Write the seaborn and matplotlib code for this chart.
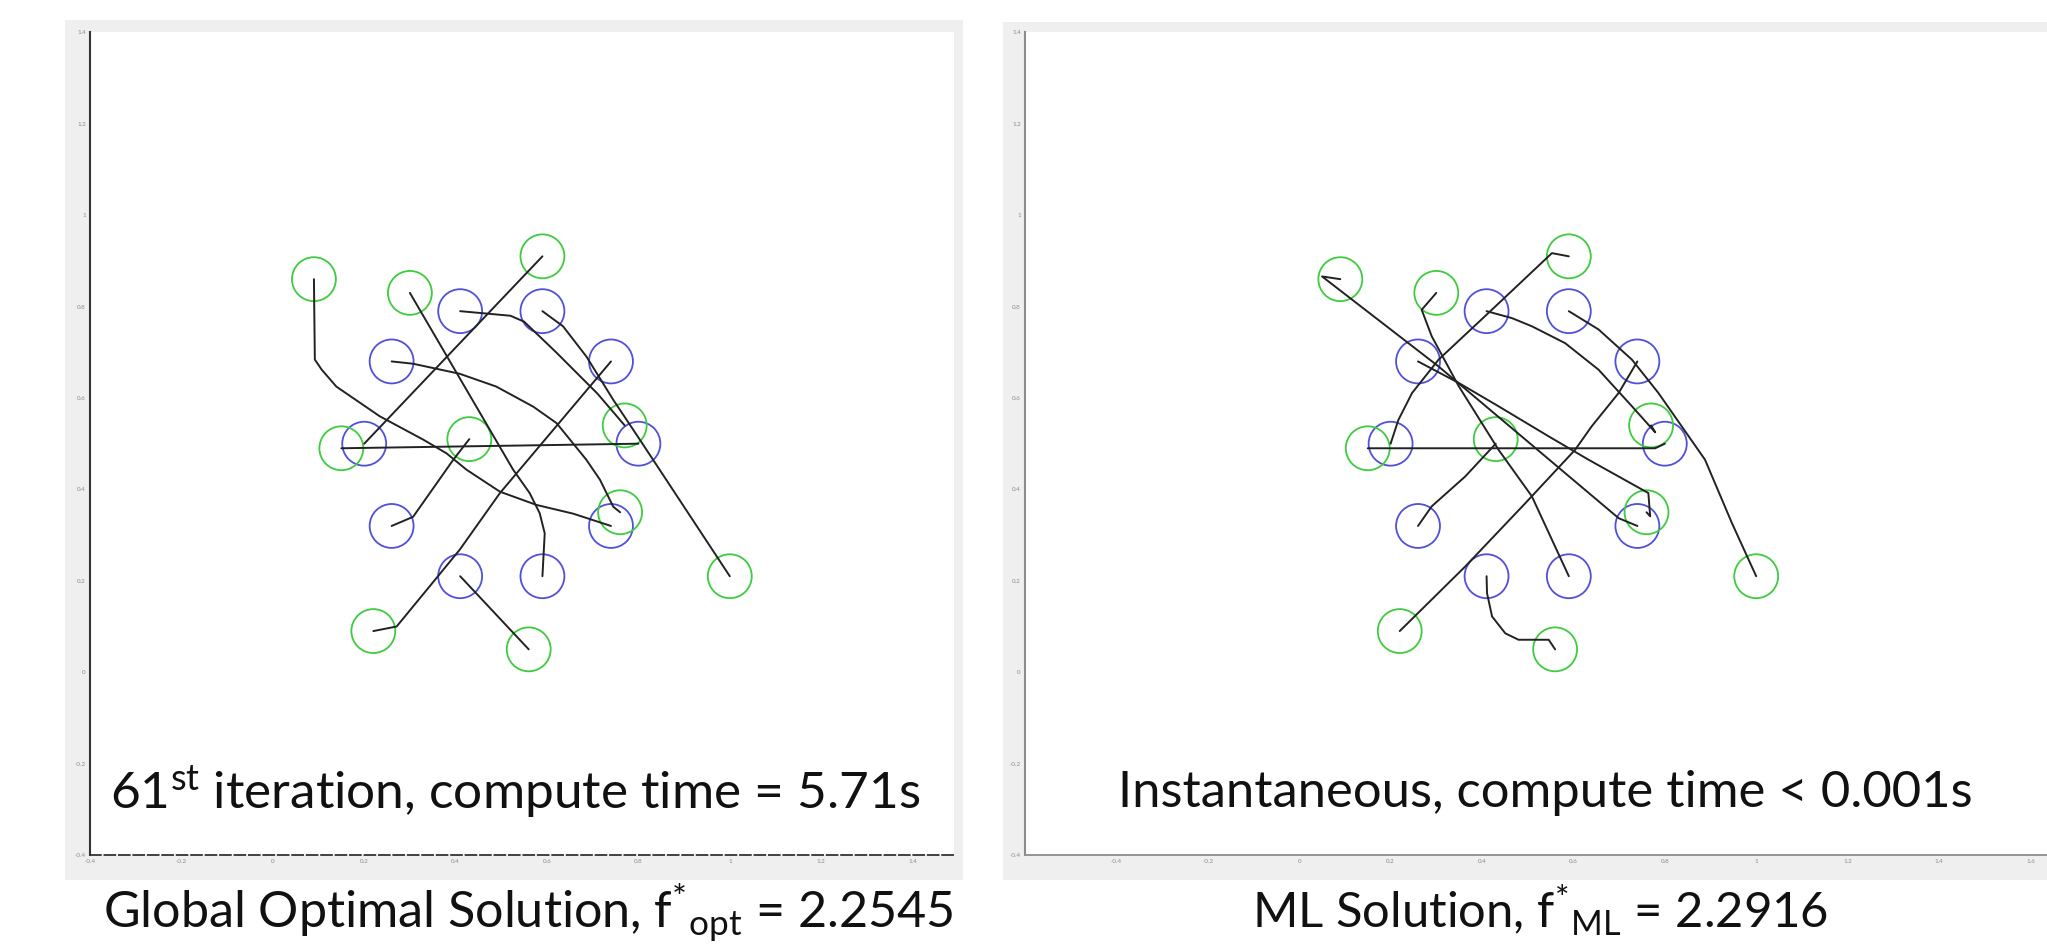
import numpy as np
import pandas as pd
import seaborn as sns
import matplotlib.pyplot as plt
from matplotlib.patches import Rectangle

sns.set_theme(style="white")
plt.rcParams['font.family'] = ['Lato', 'DejaVu Sans']
plt.rcParams['mathtext.fontset'] = 'custom'
plt.rcParams['mathtext.rm'] = 'Lato'
plt.rcParams['mathtext.it'] = 'Lato:italic'
plt.rcParams['mathtext.bf'] = 'Lato:bold'

# robots (blue) and targets (green), same for both panels
start_x = [0.41, 0.59, 0.26, 0.74, 0.20, 0.80, 0.26, 0.74, 0.41, 0.59]
start_y = [0.79, 0.79, 0.68, 0.68, 0.50, 0.50, 0.32, 0.32, 0.21, 0.21]
goal_x = [0.09, 0.30, 0.59, 0.15, 0.43, 0.77, 0.76, 1.00, 0.22, 0.56]
goal_y = [0.86, 0.83, 0.91, 0.49, 0.51, 0.54, 0.35, 0.21, 0.09, 0.05]

# trajectories, global optimal solution (left)
opt_b1_g6 = [(0.41, 0.79), (0.52, 0.78), (0.55, 0.767), (0.62, 0.70), (0.71, 0.61), (0.77, 0.54)]
opt_b2_g8 = [(0.59, 0.79), (0.635, 0.757), (0.686, 0.691), (0.745, 0.596), (0.803, 0.509),
             (0.832, 0.465), (1.00, 0.21)]
opt_b3_g7 = [(0.26, 0.68), (0.307, 0.675), (0.409, 0.653), (0.489, 0.625), (0.570, 0.581),
             (0.621, 0.545), (0.686, 0.465), (0.716, 0.421), (0.745, 0.362), (0.76, 0.35)]
opt_b4_g9 = [(0.74, 0.68), (0.497, 0.392), (0.409, 0.268), (0.271, 0.100), (0.22, 0.09)]
opt_b5_g3 = [(0.20, 0.50), (0.59, 0.91)]
opt_b6_g4 = [(0.80, 0.50), (0.15, 0.49)]
opt_b7_g5 = [(0.26, 0.32), (0.307, 0.340), (0.395, 0.465), (0.43, 0.51)]
opt_b8_g1 = [(0.74, 0.32), (0.657, 0.347), (0.577, 0.366), (0.497, 0.395), (0.424, 0.443),
             (0.380, 0.479), (0.329, 0.509), (0.234, 0.560), (0.139, 0.625), (0.107, 0.662),
             (0.092, 0.684), (0.09, 0.86)]
opt_b9_g10 = [(0.41, 0.21), (0.56, 0.05)]
opt_b10_g2 = [(0.59, 0.21), (0.595, 0.304), (0.584, 0.348), (0.562, 0.392), (0.526, 0.443),
              (0.30, 0.83)]

# trajectories, ML solution (right)
ml_b1_g6 = [(0.41, 0.79), (0.465, 0.775), (0.509, 0.757), (0.582, 0.720), (0.655, 0.662),
            (0.728, 0.582), (0.779, 0.525), (0.77, 0.54)]
ml_b2_g8 = [(0.59, 0.79), (0.655, 0.750), (0.728, 0.684), (0.786, 0.611), (0.837, 0.538),
            (0.888, 0.465), (0.947, 0.326), (1.00, 0.21)]
ml_b3_g7 = [(0.26, 0.68), (0.349, 0.633), (0.436, 0.582), (0.546, 0.516), (0.633, 0.465),
            (0.764, 0.392), (0.768, 0.341), (0.76, 0.35)]
ml_b4_g9 = [(0.74, 0.68), (0.699, 0.611), (0.640, 0.538), (0.604, 0.487), (0.495, 0.370),
            (0.363, 0.231), (0.22, 0.09)]
ml_b5_g3 = [(0.20, 0.50), (0.217, 0.552), (0.247, 0.611), (0.305, 0.684), (0.414, 0.786),
            (0.553, 0.917), (0.59, 0.91)]
ml_b6_g4 = [(0.80, 0.50), (0.779, 0.490), (0.15, 0.49)]
ml_b7_g5 = [(0.26, 0.32), (0.290, 0.363), (0.363, 0.428), (0.43, 0.50)]
ml_b8_g1 = [(0.74, 0.32), (0.699, 0.337), (0.495, 0.509), (0.305, 0.669), (0.05, 0.866),
            (0.09, 0.86)]
ml_b9_g10 = [(0.41, 0.21), (0.411, 0.173), (0.422, 0.122), (0.451, 0.085), (0.480, 0.071),
             (0.546, 0.071), (0.56, 0.05)]
ml_b10_g2 = [(0.59, 0.21), (0.509, 0.385), (0.436, 0.487), (0.349, 0.626), (0.290, 0.735),
             (0.268, 0.793), (0.30, 0.83)]

opt_paths = [opt_b1_g6, opt_b2_g8, opt_b3_g7, opt_b4_g9, opt_b5_g3,
             opt_b6_g4, opt_b7_g5, opt_b8_g1, opt_b9_g10, opt_b10_g2]
ml_paths = [ml_b1_g6, ml_b2_g8, ml_b3_g7, ml_b4_g9, ml_b5_g3,
            ml_b6_g4, ml_b7_g5, ml_b8_g1, ml_b9_g10, ml_b10_g2]

# axis ticks (MATLAB style labels)
y_ticks = [-0.4, -0.2, 0, 0.2, 0.4, 0.6, 0.8, 1, 1.2, 1.4]
y_labels = ['-0.4', '-0.2', '0', '0.2', '0.4', '0.6', '0.8', '1', '1.2', '1.4']
left_x_ticks = [-0.4, -0.2, 0, 0.2, 0.4, 0.6, 0.8, 1, 1.2, 1.4]
left_x_labels = ['-0.4', '-0.2', '0', '0.2', '0.4', '0.6', '0.8', '1', '1.2', '1.4']
right_x_ticks = [-0.4, -0.2, 0, 0.2, 0.4, 0.6, 0.8, 1, 1.2, 1.4, 1.6]
right_x_labels = ['-0.4', '-0.2', '0', '0.2', '0.4', '0.6', '0.8', '1', '1.2', '1.4', '1.6']

left_note = '61$^{\\mathrm{st}}$ iteration, compute time = 5.71s'
right_note = 'Instantaneous, compute time < 0.001s'
left_title = 'Global Optimal Solution, f$^{*}$$_{\\mathrm{opt}}$ = 2.2545'
right_title = 'ML Solution, f$^{*}$$_{\\mathrm{ML}}$ = 2.2916'

BLUE = '#5050dc'
GREEN = '#3fcb3f'
LINE = '#222222'
PANEL = '#efefef'

W, H = 2047, 947


def path_frame(paths):
    rows = []
    for k, pts in enumerate(paths):
        for x, y in pts:
            rows.append((k, x, y))
    return pd.DataFrame(rows, columns=['path', 'x', 'y'])


def draw_panel(ax, paths, xlim, xticks, xlabels, dashed_bottom, spine_col):
    df = path_frame(paths)
    sns.lineplot(data=df, x='x', y='y', units='path', estimator=None, sort=False,
                 color=LINE, linewidth=1.4, ax=ax, zorder=3)
    sns.scatterplot(x=start_x, y=start_y, ax=ax, s=1000, marker='o', color=BLUE,
                    facecolor='none', edgecolor=BLUE, linewidth=1.3, zorder=2)
    sns.scatterplot(x=goal_x, y=goal_y, ax=ax, s=1000, marker='o', color=GREEN,
                    facecolor='none', edgecolor=GREEN, linewidth=1.3, zorder=2)
    ax.set_xlim(*xlim)
    ax.set_ylim(-0.4, 1.4)
    ax.set_xlabel('')
    ax.set_ylabel('')
    ax.set_xticks(xticks)
    ax.set_xticklabels(xlabels)
    ax.set_yticks(y_ticks)
    ax.set_yticklabels(y_labels)
    ax.tick_params(direction='in', length=5, width=0.8, color='#555555',
                   labelsize=4.5, labelcolor='#8a8a8a', pad=3)
    ax.set_facecolor('white')
    for side in ['top', 'right']:
        ax.spines[side].set_visible(False)
    ax.spines['left'].set_color(spine_col)
    ax.spines['left'].set_linewidth(1.5)
    ax.spines['bottom'].set_color(spine_col if not dashed_bottom else '#333333')
    ax.spines['bottom'].set_linewidth(1.3)
    if dashed_bottom:
        ax.spines['bottom'].set_linestyle((0, (6, 2)))


fig = plt.figure(figsize=(W / 100, H / 100), dpi=100, facecolor='white')

# grey MATLAB figure backgrounds
fig.add_artist(Rectangle((65 / W, (H - 880) / H), (963 - 65) / W, (880 - 20) / H,
                         transform=fig.transFigure, facecolor=PANEL, edgecolor='none', zorder=0))
fig.add_artist(Rectangle((1003 / W, (H - 880) / H), (W - 1003) / W, (880 - 22) / H,
                         transform=fig.transFigure, facecolor=PANEL, edgecolor='none', zorder=0))

px_per_unit = 457
ax_bottom = (H - 855) / H
ax_height = 1.8 * px_per_unit / H

ax1 = fig.add_axes([90 / W, ax_bottom, 1.89 * px_per_unit / W, ax_height])
draw_panel(ax1, opt_paths, (-0.4, 1.49), left_x_ticks, left_x_labels, True, '#333333')

ax2 = fig.add_axes([1025 / W, ax_bottom, 2.3 * px_per_unit / W, ax_height])
draw_panel(ax2, ml_paths, (-0.6, 1.7), right_x_ticks, right_x_labels, False, '#8c8c8c')

fig.text(515 / W, (H - 808) / H, left_note, ha='center', va='baseline',
         fontsize=37, color='#111111')
fig.text(1545 / W, (H - 807) / H, right_note, ha='center', va='baseline',
         fontsize=36.5, color='#111111')
fig.text(528 / W, (H - 928) / H, left_title, ha='center', va='baseline',
         fontsize=36.2, color='#111111')
fig.text(1540 / W, (H - 928) / H, right_title, ha='center', va='baseline',
         fontsize=35.3, color='#111111')

fig.savefig('out.png', dpi=100, facecolor='white')
